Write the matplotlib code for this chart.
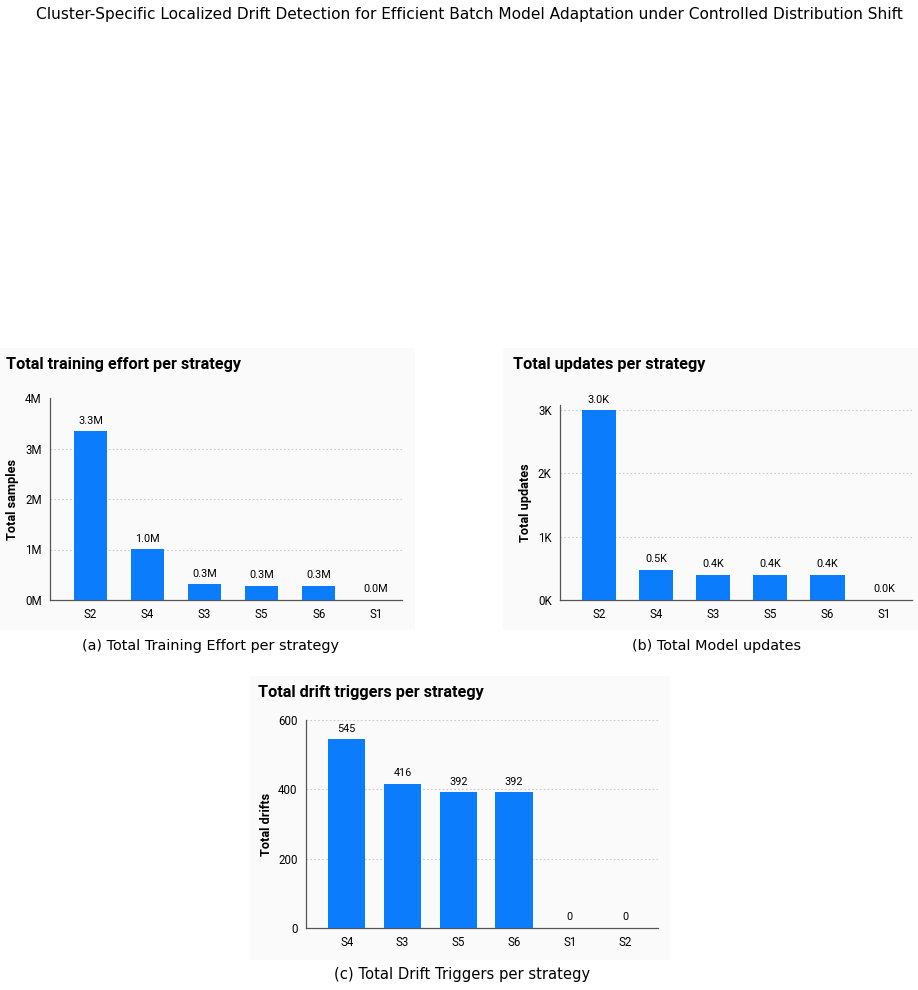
import matplotlib
matplotlib.use("Agg")
import matplotlib.pyplot as plt
from matplotlib.patches import Rectangle

W, H = 918, 990

# data
effort_labels = ["S2", "S4", "S3", "S5", "S6", "S1"]
effort_values = [3340000, 1005000, 310000, 280000, 280000, 5000]

update_labels = ["S2", "S4", "S3", "S5", "S6", "S1"]
update_values = [3000, 480, 400, 400, 400, 2]

drift_labels = ["S4", "S3", "S5", "S6", "S1", "S2"]
drift_values = [545, 416, 392, 392, 0, 0]

BLUE = "#0a7cfc"
CHART_FONT = "Roboto"
CAPTION_FONT = "DejaVu Sans"


def px_axes(fig, left, top, right, bottom):
    """Axes placed by pixel edges (top-left origin)."""
    return fig.add_axes([left / W, 1 - bottom / H, (right - left) / W, (bottom - top) / H])


def px_box(fig, left, top, right, bottom):
    fig.patches.append(Rectangle((left / W, 1 - bottom / H), (right - left) / W, (bottom - top) / H,
                                 transform=fig.transFigure, facecolor="#fafafa",
                                 edgecolor="none", zorder=-10))


def bar_panel(ax, labels, values, ylim, yticks, yticklabels, gridticks, ylabel, fmt, width, xlim):
    x = range(len(labels))
    bars = ax.bar(x, values, width=width, color=BLUE, zorder=3)
    ax.set_xlim(*xlim)
    ax.set_ylim(*ylim)
    ax.set_yticks(yticks)
    ax.set_yticklabels(yticklabels, fontfamily=CHART_FONT, fontsize=8.3)
    ax.set_xticks(list(x))
    ax.set_xticklabels(labels, fontfamily=CHART_FONT, fontsize=8.3)
    ax.tick_params(length=0, pad=6)
    for t in gridticks:
        ax.axhline(t, color="#cccccc", lw=0.8, ls=(0, (1.5, 2)), zorder=1)
    ax.set_facecolor("none")
    for s in ["top", "right"]:
        ax.spines[s].set_visible(False)
    for s in ["left", "bottom"]:
        ax.spines[s].set_color("#555555")
        ax.spines[s].set_linewidth(0.9)
    ax.set_ylabel(ylabel, fontfamily=CHART_FONT, fontsize=9.2, fontweight="bold", labelpad=4)
    for b, v in zip(bars, values):
        ax.annotate(fmt(v), (b.get_x() + b.get_width() / 2, b.get_height()),
                    xytext=(0, 4), textcoords="offset points", ha="center", va="bottom",
                    fontfamily=CHART_FONT, fontsize=7.8)


fig = plt.figure(figsize=(W / 100, H / 100), dpi=100)

fig.text(469 / W, 1 - 14 / H, "Cluster-Specific Localized Drift Detection for Efficient Batch Model Adaptation under Controlled Distribution Shift",
         ha="center", va="center", fontsize=11.1, fontfamily=CAPTION_FONT)

# panel backgrounds
px_box(fig, 0, 348, 415, 630)
px_box(fig, 503, 348, 918, 630)
px_box(fig, 250, 676, 670, 960)

# (a) training effort
ax1 = px_axes(fig, 50, 398, 402, 600)
bar_panel(ax1, effort_labels, effort_values, (0, 4e6), [0, 1e6, 2e6, 3e6, 4e6],
          ["0M", "1M", "2M", "3M", "4M"], [1e6, 2e6, 3e6], "Total samples",
          lambda v: f"{v / 1e6:.1f}M", 0.58, (-0.71, 5.46))
fig.text(6 / W, 1 - 365 / H, "Total training effort per strategy", ha="left", va="center",
         fontsize=11.7, fontweight="bold", fontfamily=CHART_FONT)
fig.text(210 / W, 1 - 646 / H, "(a) Total Training Effort per strategy", ha="center", va="center",
         fontsize=10.4, fontfamily=CAPTION_FONT)

# (b) model updates
ax2 = px_axes(fig, 560, 405, 912, 600)
bar_panel(ax2, update_labels, update_values, (0, 3080), [0, 1000, 2000, 3000],
          ["0K", "1K", "2K", "3K"], [1000, 2000, 3000], "Total updates",
          lambda v: f"{v / 1e3:.1f}K", 0.6, (-0.68, 5.48))
fig.text(513 / W, 1 - 365 / H, "Total updates per strategy", ha="left", va="center",
         fontsize=11.7, fontweight="bold", fontfamily=CHART_FONT)
fig.text(717 / W, 1 - 646 / H, "(b) Total Model updates", ha="center", va="center",
         fontsize=10.4, fontfamily=CAPTION_FONT)

# (c) drift triggers
ax3 = px_axes(fig, 306, 720, 658, 928)
bar_panel(ax3, drift_labels, drift_values, (0, 600), [0, 200, 400, 600],
          ["0", "200", "400", "600"], [200, 400, 600], "Total drifts",
          lambda v: f"{v:.0f}", 0.67, (-0.73, 5.58))
fig.text(258 / W, 1 - 693 / H, "Total drift triggers per strategy", ha="left", va="center",
         fontsize=11.7, fontweight="bold", fontfamily=CHART_FONT)
fig.text(462 / W, 1 - 975 / H, "(c) Total Drift Triggers per strategy", ha="center", va="center",
         fontsize=10.6, fontfamily=CAPTION_FONT)

fig.savefig("out.png", dpi=100)
